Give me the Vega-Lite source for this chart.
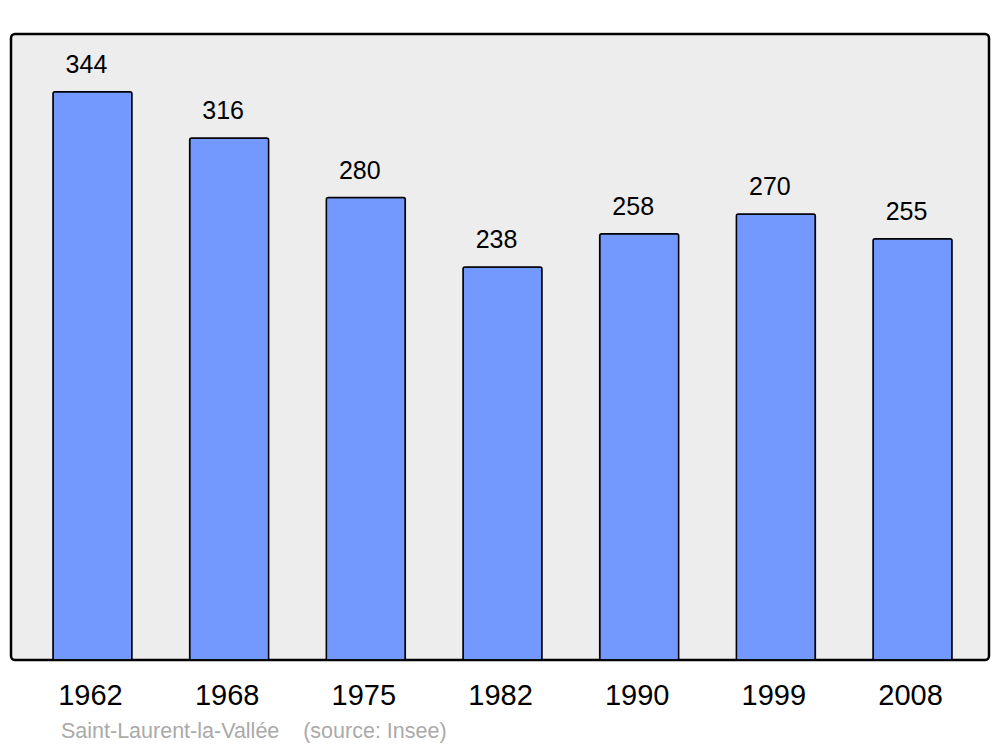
{
  "$schema": "https://vega.github.io/schema/vega-lite/v6.json",
  "autosize": "none",
  "width": 978,
  "height": 626,
  "padding": {"left": 11, "top": 34, "right": 11, "bottom": 87},
  "background": "white",
  "config": {
    "view": {"fill": "#ededed", "stroke": "black", "strokeWidth": 2.5, "cornerRadius": 4},
    "font": "Liberation Sans"
  },
  "title": {
    "text": "Saint-Laurent-la-Vallée\u00a0\u00a0\u00a0\u00a0(source: Insee)",
    "orient": "bottom",
    "anchor": "start",
    "frame": "group",
    "dx": 50,
    "offset": 28,
    "baseline": "alphabetic",
    "fontSize": 21.5,
    "fontWeight": "normal",
    "color": "#aaaaaa",
    "font": "Liberation Sans"
  },
  "data": {
    "values": [
      {"year": "1962", "pop": 344},
      {"year": "1968", "pop": 316},
      {"year": "1975", "pop": 280},
      {"year": "1982", "pop": 238},
      {"year": "1990", "pop": 258},
      {"year": "1999", "pop": 270},
      {"year": "2008", "pop": 255}
    ]
  },
  "encoding": {
    "x": {
      "field": "year",
      "type": "nominal",
      "sort": null,
      "scale": {"range": [7.8, 975.2], "paddingInner": 0.422, "paddingOuter": 0.25},
      "axis": {
        "title": null,
        "domain": false,
        "ticks": false,
        "labelAngle": 0,
        "labelFontSize": 29,
        "labelColor": "black",
        "labelBaseline": "alphabetic",
        "labelPadding": 44,
        "labelOffset": -2
      }
    },
    "y": {
      "field": "pop",
      "type": "quantitative",
      "scale": {"domain": [0, 379], "nice": false},
      "axis": null
    }
  },
  "layer": [
    {
      "mark": {
        "type": "bar",
        "fill": "#7399ff",
        "stroke": "black",
        "strokeWidth": 1.5,
        "cornerRadiusTopLeft": 2,
        "cornerRadiusTopRight": 2
      }
    },
    {
      "mark": {
        "type": "text",
        "baseline": "alphabetic",
        "dy": -19,
        "dx": -6,
        "fontSize": 25,
        "color": "black"
      },
      "encoding": {"text": {"field": "pop", "type": "quantitative"}}
    }
  ]
}
